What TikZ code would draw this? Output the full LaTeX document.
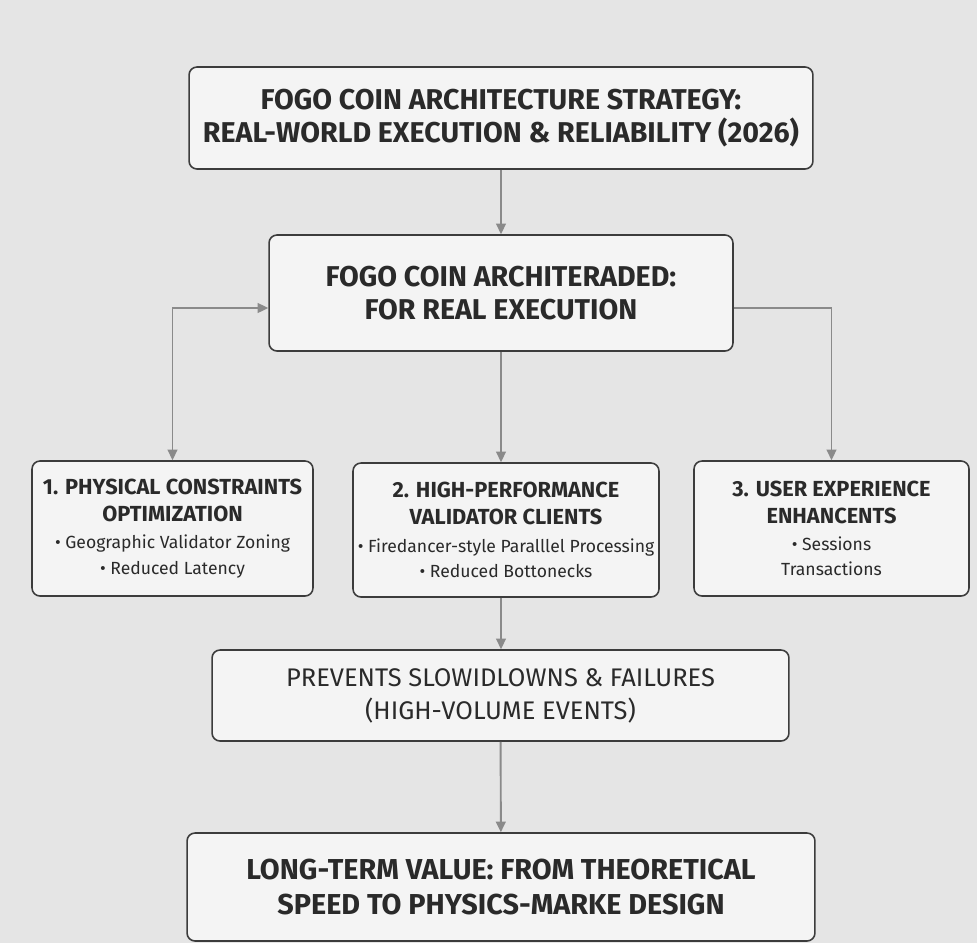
\documentclass[tikz,border=0pt]{standalone}
\usepackage{fontspec}
\setmainfont{Fira Sans}
\usetikzlibrary{arrows.meta,positioning,calc}
\definecolor{bggray}{HTML}{E5E5E5}
\definecolor{boxfill}{HTML}{F4F4F4}
\definecolor{boxline}{HTML}{3C3C3C}
\definecolor{textdark}{HTML}{2A2A2A}
\definecolor{linkgray}{HTML}{8A8A8A}
\tikzset{
  >=Triangle,
  card/.style={
    rectangle, rounded corners=4.5pt, draw=boxline, line width=0.9pt,
    fill=boxfill, align=center, text=textdark, inner sep=0pt
  },
  headfont/.style={font=\fontsize{16.3}{18.8}\selectfont\bfseries},
  pillarfont/.style={font=\fontsize{12.4}{15.4}\selectfont\bfseries},
  arrow/.style={-{Triangle[length=6pt,width=5.5pt]}, line width=1.1pt, draw=linkgray},
  twoarrow/.style={{Triangle[length=6pt,width=5.5pt]}-{Triangle[length=6pt,width=5.5pt]}, line width=1.1pt, draw=linkgray}
}
\newcommand{\bul}[1]{{\fontsize{10}{14.2}\selectfont\mdseries #1}}

\begin{document}
\begin{tikzpicture}[x=0.02cm,y=-0.02cm]
\fill[bggray] (0,0) rectangle (977,943);
\useasboundingbox (0,0) rectangle (977,943);
% top of the flow
\node[card, headfont, minimum width=12.48cm, minimum height=2.04cm] (title) at (501,118)
  {FOGO COIN ARCHITECTURE STRATEGY:\\REAL-WORLD EXECUTION \& RELIABILITY (2026)};
\node[card, headfont, minimum width=9.28cm, minimum height=2.32cm] (hub) at (501,293)
  {FOGO COIN ARCHITERADED:\\FOR REAL EXECUTION};
% three pillars
\node[card, pillarfont, minimum width=5.62cm, minimum height=2.7cm] (phys) at (172.5,528.5)
  {1. PHYSICAL CONSTRAINTS\\OPTIMIZATION\\\bul{• Geographic Validator Zoning}\\[-1pt]\bul{• Reduced Latency}};
\node[card, pillarfont, minimum width=6.12cm, minimum height=2.68cm] (perf) at (506,530)
  {2. HIGH-PERFORMANCE\\VALIDATOR CLIENTS\\\bul{• Firedancer-style Paralllel Processing}\\[-1pt]\bul{• Reduced Bottonecks}};
\node[card, pillarfont, minimum width=5.5cm, minimum height=2.7cm] (user) at (831.5,528.5)
  {3. USER EXPERIENCE\\ENHANCENTS\\\bul{• Sessions}\\[-1pt]\bul{Transactions}};
% outcome
\node[card, font=\fontsize{14.5}{18.8}\selectfont, minimum width=11.54cm, minimum height=1.82cm] (slow) at (500.5,695.5)
  {PREVENTS SLOWIDLOWNS \& FAILURES\\(HIGH-VOLUME EVENTS)};
\node[card, font=\fontsize{16.4}{19.4}\selectfont\bfseries, minimum width=12.56cm, minimum height=2.16cm] (value) at (501,887)
  {LONG-TERM VALUE: FROM THEORETICAL\\SPEED TO PHYSICS-MARKE DESIGN};
\coordinate (hubl) at ($(hub.west)+(0,15)$);
\coordinate (hubr) at ($(hub.east)+(0,15)$);
\draw[arrow] (title) -- (hub);
\draw[twoarrow] (phys.north) |- (hubl);
\draw[arrow] (hubr) -| (user.north);
\draw[arrow] (hub.south) -- (hub.south |- perf.north);
\draw[arrow] (hub.south |- perf.south) -- (hub.south |- slow.north);
\draw[arrow] (slow) -- (value);
\end{tikzpicture}
\end{document}
